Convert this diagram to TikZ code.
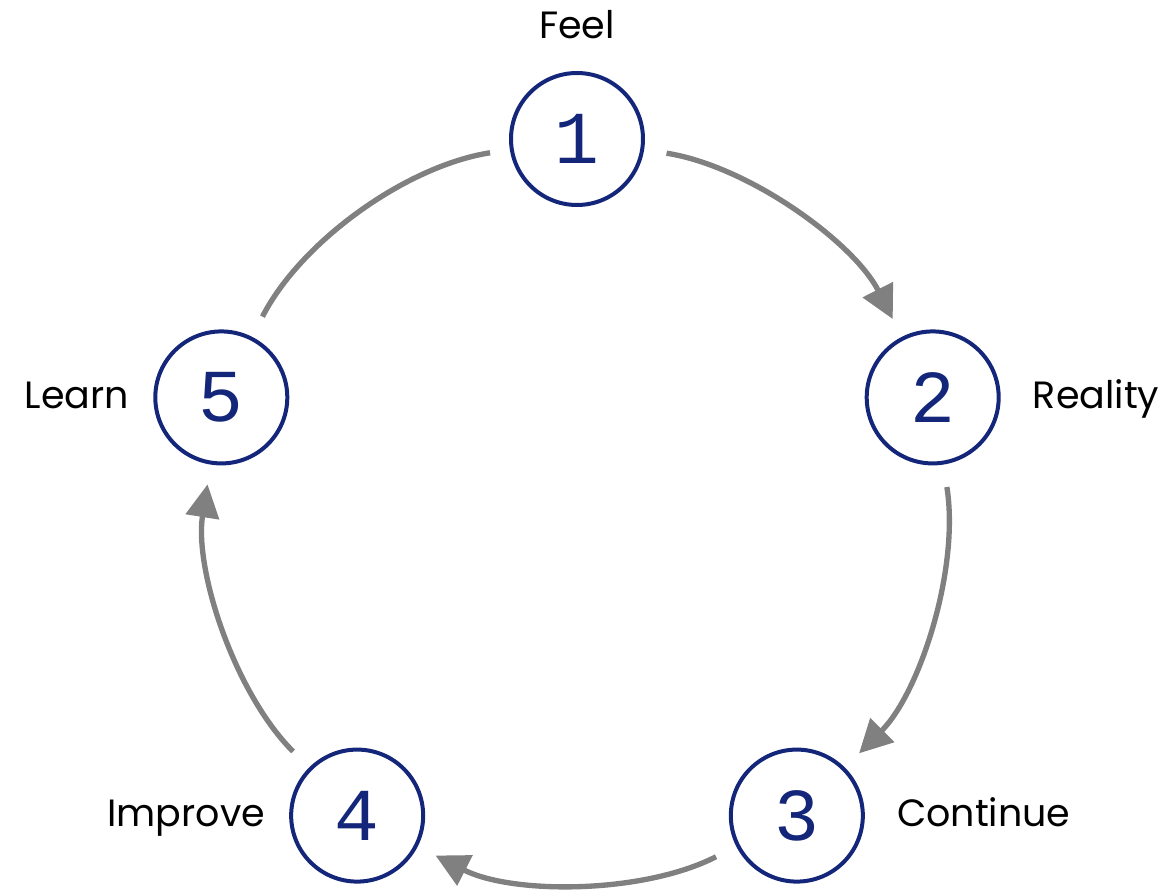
\documentclass[tikz,border=0pt]{standalone}
\usepackage{fontspec}
\setmainfont{Poppins}
\newfontfamily\digitfont{Liberation Mono}
\usetikzlibrary{arrows.meta}

\definecolor{ringblue}{RGB}{20,38,122}
\definecolor{loopgray}{RGB}{128,128,128}

\tikzset{
  stage/.style={draw=ringblue,line width=3pt,circle,minimum size=99pt,inner sep=0pt,
                text=ringblue,font=\digitfont\fontsize{56}{60}\selectfont},
  every label/.style={inner sep=0pt,font=\fontsize{28.5}{32}\selectfont},
  top label/.style={label={[label distance=24pt]90:#1}},
  right label/.style={label={[anchor=base west,label distance=24pt,yshift=-8pt]0:#1}},
  left label/.style={label={[anchor=base east,label distance=18pt,yshift=-8pt]180:#1}},
  link/.style={color=loopgray,line width=4pt,bend left=27,looseness=0.85,
               shorten <=17pt,shorten >=15pt},
  tip/.style={-{Triangle[length=24.75pt,width=24.75pt,fill=loopgray]}}
}

\begin{document}
\begin{tikzpicture}
\useasboundingbox (-432.75pt,-282pt) rectangle (447pt,384.75pt);

% the five stages round the loop
\foreach \ang/\lbl/\side [count=\n] in
        {90/Feel/top,18/Reality/right,-54/Continue/right,-126/Improve/left,162/Learn/left}
  \node[stage,\side\space label=\lbl] (N\n) at (\ang:280.5pt) {\n};

% arrows from each stage to the next
\foreach \a/\b in {1/2,2/3,3/4,4/5}
  \path[link] (N\a) edge[tip] (N\b);
\path[link] (N5) edge (N1);
\end{tikzpicture}
\end{document}
